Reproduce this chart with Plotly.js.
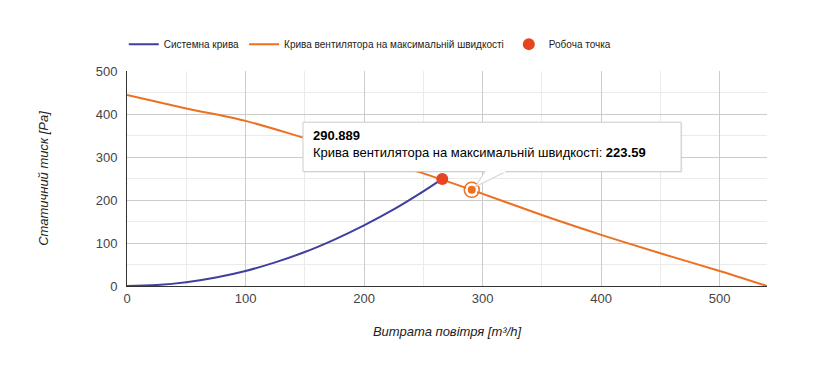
<!DOCTYPE html>
<html><head><meta charset="utf-8">
<script src="https://cdn.plot.ly/plotly-3.0.1.min.js"></script>
<style>body{margin:0;background:#fff}#c{width:817px;height:366px}</style>
</head><body><div id="c"></div>
<script>
// System curve (flow m3/h, pressure Pa)
const sysX = [0, 25, 50, 75, 100, 125, 150, 175, 200, 225, 250, 266];
const sysY = [0, 2.2, 8.8, 19.8, 35, 55, 79, 108, 141, 178, 220, 249];
// Fan curve at max speed
const fanX = [0, 50, 100, 150, 200, 250, 290.889, 350, 400, 450, 500, 540];
const fanY = [444, 413, 384, 344, 303, 262, 223.59, 165, 119, 76, 35, 0];
// Working point
const opX = [266];
const opY = [249];
// Hovered point
const hovX = [290.889];
const hovY = [223.59];
const names = ['Системна крива', 'Крива вентилятора на максимальній швидкості', 'Робоча точка'];
const xTicks = [0, 100, 200, 300, 400, 500];
const yTicks = [0, 100, 200, 300, 400, 500];

const traces = [
  {x: sysX, y: sysY, name: names[0], mode: 'lines', line: {color: '#3f3f9e', width: 2, shape: 'spline'}},
  {x: fanX, y: fanY, name: names[1], mode: 'lines', line: {color: '#ec7020', width: 2, shape: 'spline', smoothing: 0.8}},
  {x: opX, y: opY, name: names[2], mode: 'markers', marker: {color: '#e5461f', size: 12}},
  {x: hovX, y: hovY, showlegend: false, mode: 'markers', marker: {color: 'rgba(0,0,0,0)', size: 15, line: {color: '#ec7020', width: 1.5}}, hoverinfo: 'skip'},
  {x: hovX, y: hovY, showlegend: false, mode: 'markers', marker: {color: '#ec7020', size: 10, line: {color: '#ffffff', width: 2}}, hoverinfo: 'skip'}
];

const layout = {
  width: 817, height: 366,
  margin: {l: 127, r: 50, t: 71, b: 80},
  paper_bgcolor: '#fff', plot_bgcolor: '#fff',
  font: {family: 'Liberation Sans, Arial, sans-serif', color: '#444', size: 13},
  showlegend: true,
  legend: {orientation: 'h', x: -0.005, xanchor: 'left', y: 1.125, yanchor: 'middle', font: {size: 10, color: '#222'}, itemwidth: 30, tracegroupgap: 0},
  xaxis: {
    range: [0, 540], tickvals: xTicks, ticktext: xTicks.map(String),
    showgrid: true, gridcolor: '#cccccc', gridwidth: 1,
    minor: {dtick: 50, showgrid: true, gridcolor: '#ebebeb', gridwidth: 1},
    zeroline: false, showline: true, linecolor: '#333', linewidth: 1,
    ticks: '', tickfont: {size: 13, color: '#444'},
    title: {text: 'Витрата повітря [m³/h]', font: {size: 13, color: '#222', style: 'italic'}, standoff: 22},
    fixedrange: true
  },
  yaxis: {
    range: [0, 500], tickvals: yTicks, ticktext: yTicks.map(String),
    showgrid: true, gridcolor: '#cccccc', gridwidth: 1,
    minor: {dtick: 50, showgrid: true, gridcolor: '#ebebeb', gridwidth: 1},
    zeroline: false, showline: true, linecolor: '#333', linewidth: 1,
    ticks: '', tickfont: {size: 13, color: '#444'}, ticklabelstandoff: 6,
    title: {text: 'Статичний тиск [Pa]', font: {size: 13, color: '#222', style: 'italic'}, standoff: 44},
    fixedrange: true
  },
  shapes: [
    // tooltip shadow
    {type: 'rect', xref: 'x', yref: 'y', x0: 149.5, x1: 468.5, y0: 264, y1: 380, fillcolor: 'rgba(0,0,0,0.08)', line: {width: 0}, layer: 'above'},
    // tooltip box
    {type: 'rect', xref: 'x', yref: 'y', x0: 148.5, x1: 467.5, y0: 266, y1: 381, fillcolor: '#ffffff', line: {color: '#cccccc', width: 1}, layer: 'above'},
    // tooltip tail
    {type: 'path', xref: 'x', yref: 'y', path: 'M 302 266.5 L 294 231 L 320 266.5 Z', fillcolor: '#ffffff', line: {color: '#cccccc', width: 1}, layer: 'above'},
    {type: 'line', xref: 'x', yref: 'y', x0: 302.5, x1: 319.5, y0: 266, y1: 266, line: {color: '#ffffff', width: 2}, layer: 'above'}
  ],
  annotations: [
    {xref: 'x', yref: 'y', x: 155, y: 373, xanchor: 'left', yanchor: 'top', align: 'left', showarrow: false,
     text: '<b>290.889</b><br>Крива вентилятора на максимальній швидкості: <b>223.59</b>',
     font: {size: 13, color: '#000', family: 'Liberation Sans, Arial, sans-serif'}}
  ]
};
Plotly.newPlot('c', traces, layout, {displayModeBar: false, staticPlot: true});
</script></body></html>
